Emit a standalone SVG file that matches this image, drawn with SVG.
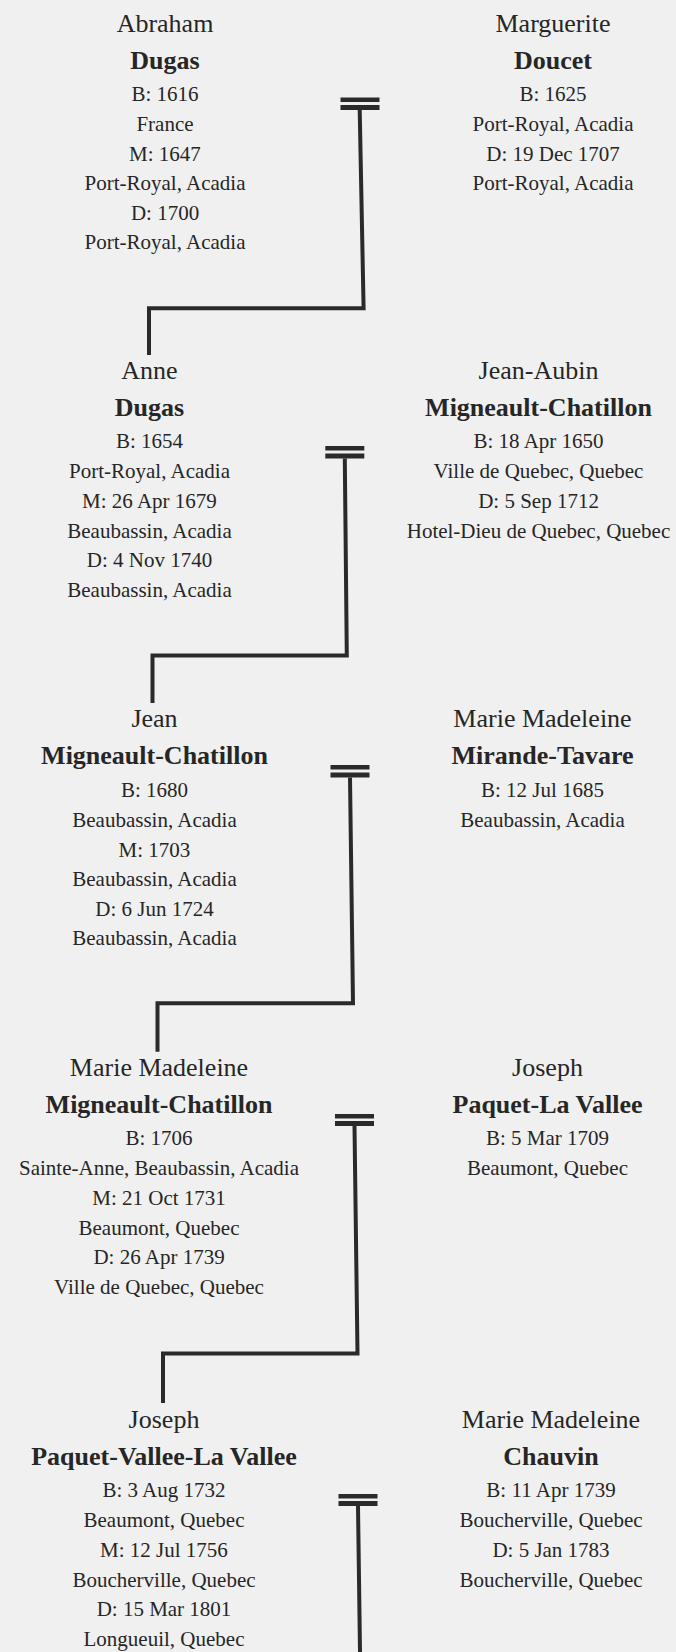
<svg xmlns="http://www.w3.org/2000/svg" width="676" height="1652" viewBox="0 0 676 1652">
<style>
text{font-family:"Liberation Serif","Times New Roman",serif;fill:#262626;text-anchor:middle}
.g{font-size:26px}
.s{font-size:26px;font-weight:bold}
.d{font-size:21px}
.ln{fill:none;stroke:#2a2a2a;stroke-width:4;stroke-linejoin:miter}
.bar{fill:#2a2a2a}
</style>
<rect width="676" height="1652" fill="#f0f0f0"/>
<g id="connectors">
<rect class="bar" x="340.5" y="97.5" width="39" height="4.5"/><rect class="bar" x="340.5" y="105" width="39" height="5"/>
<polyline class="ln" points="149,355 149,308.3 363.6,308.3 359.7,110"/>
<rect class="bar" x="325.3" y="446" width="39" height="4.5"/><rect class="bar" x="325.3" y="453.5" width="39" height="5"/>
<polyline class="ln" points="152.5,703 152.5,655.5 346.8,655.5 344.8,458.5"/>
<rect class="bar" x="330.5" y="765" width="39" height="4.5"/><rect class="bar" x="330.5" y="772.5" width="39" height="5"/>
<polyline class="ln" points="157.5,1051.7 157.5,1003.3 353,1003.3 350,777.5"/>
<rect class="bar" x="335" y="1114" width="39" height="4.5"/><rect class="bar" x="335" y="1121" width="39" height="5"/>
<polyline class="ln" points="163,1403 163,1353.5 357.5,1353.5 354.5,1126"/>
<rect class="bar" x="338.5" y="1494" width="39" height="4.5"/><rect class="bar" x="338.5" y="1501" width="39" height="5"/>
<polyline class="ln" points="358,1506 360,1652"/>
</g>
<g id="abraham-dugas">
<text class="g" x="165" y="31.5">Abraham</text>
<text class="s" x="165" y="68.5">Dugas</text>
<text class="d" x="165" y="100.5">B: 1616</text>
<text class="d" x="165" y="130.5">France</text>
<text class="d" x="165" y="160.5">M: 1647</text>
<text class="d" x="165" y="190">Port-Royal, Acadia</text>
<text class="d" x="165" y="219.5">D: 1700</text>
<text class="d" x="165" y="249">Port-Royal, Acadia</text>
</g>
<g id="marguerite-doucet">
<text class="g" x="553" y="31.5">Marguerite</text>
<text class="s" x="553" y="68.5">Doucet</text>
<text class="d" x="553" y="100.5">B: 1625</text>
<text class="d" x="553" y="130.5">Port-Royal, Acadia</text>
<text class="d" x="553" y="160.5">D: 19 Dec 1707</text>
<text class="d" x="553" y="190">Port-Royal, Acadia</text>
</g>
<g id="anne-dugas">
<text class="g" x="149.5" y="379.3">Anne</text>
<text class="s" x="149.5" y="416.3">Dugas</text>
<text class="d" x="149.5" y="448.3">B: 1654</text>
<text class="d" x="149.5" y="478.3">Port-Royal, Acadia</text>
<text class="d" x="149.5" y="508.3">M: 26 Apr 1679</text>
<text class="d" x="149.5" y="537.8">Beaubassin, Acadia</text>
<text class="d" x="149.5" y="567.3">D: 4 Nov 1740</text>
<text class="d" x="149.5" y="596.8">Beaubassin, Acadia</text>
</g>
<g id="jean-aubin-migneault-chatillon">
<text class="g" x="538.5" y="379.3">Jean-Aubin</text>
<text class="s" x="538.5" y="416.3">Migneault-Chatillon</text>
<text class="d" x="538.5" y="448.3">B: 18 Apr 1650</text>
<text class="d" x="538.5" y="478.3">Ville de Quebec, Quebec</text>
<text class="d" x="538.5" y="508.3">D: 5 Sep 1712</text>
<text class="d" x="538.5" y="537.8">Hotel-Dieu de Quebec, Quebec</text>
</g>
<g id="jean-migneault-chatillon">
<text class="g" x="154.5" y="727">Jean</text>
<text class="s" x="154.5" y="764">Migneault-Chatillon</text>
<text class="d" x="154.5" y="796.5">B: 1680</text>
<text class="d" x="154.5" y="826.5">Beaubassin, Acadia</text>
<text class="d" x="154.5" y="856.5">M: 1703</text>
<text class="d" x="154.5" y="886">Beaubassin, Acadia</text>
<text class="d" x="154.5" y="915.5">D: 6 Jun 1724</text>
<text class="d" x="154.5" y="945">Beaubassin, Acadia</text>
</g>
<g id="marie-madeleine-mirande-tavare">
<text class="g" x="542.5" y="727">Marie Madeleine</text>
<text class="s" x="542.5" y="764">Mirande-Tavare</text>
<text class="d" x="542.5" y="796.5">B: 12 Jul 1685</text>
<text class="d" x="542.5" y="826.5">Beaubassin, Acadia</text>
</g>
<g id="marie-madeleine-migneault-chatillon">
<text class="g" x="159" y="1076">Marie Madeleine</text>
<text class="s" x="159" y="1113">Migneault-Chatillon</text>
<text class="d" x="159" y="1145">B: 1706</text>
<text class="d" x="159" y="1175">Sainte-Anne, Beaubassin, Acadia</text>
<text class="d" x="159" y="1205">M: 21 Oct 1731</text>
<text class="d" x="159" y="1234.5">Beaumont, Quebec</text>
<text class="d" x="159" y="1264">D: 26 Apr 1739</text>
<text class="d" x="159" y="1293.5">Ville de Quebec, Quebec</text>
</g>
<g id="joseph-paquet-la-vallee">
<text class="g" x="547.5" y="1076">Joseph</text>
<text class="s" x="547.5" y="1113">Paquet-La Vallee</text>
<text class="d" x="547.5" y="1145">B: 5 Mar 1709</text>
<text class="d" x="547.5" y="1175">Beaumont, Quebec</text>
</g>
<g id="joseph-paquet-vallee-la-vallee">
<text class="g" x="164" y="1428">Joseph</text>
<text class="s" x="164" y="1465">Paquet-Vallee-La Vallee</text>
<text class="d" x="164" y="1497">B: 3 Aug 1732</text>
<text class="d" x="164" y="1527">Beaumont, Quebec</text>
<text class="d" x="164" y="1557">M: 12 Jul 1756</text>
<text class="d" x="164" y="1586.5">Boucherville, Quebec</text>
<text class="d" x="164" y="1616">D: 15 Mar 1801</text>
<text class="d" x="164" y="1645.5">Longueuil, Quebec</text>
</g>
<g id="marie-madeleine-chauvin">
<text class="g" x="551" y="1428">Marie Madeleine</text>
<text class="s" x="551" y="1465">Chauvin</text>
<text class="d" x="551" y="1497">B: 11 Apr 1739</text>
<text class="d" x="551" y="1527">Boucherville, Quebec</text>
<text class="d" x="551" y="1557">D: 5 Jan 1783</text>
<text class="d" x="551" y="1586.5">Boucherville, Quebec</text>
</g>
</svg>
